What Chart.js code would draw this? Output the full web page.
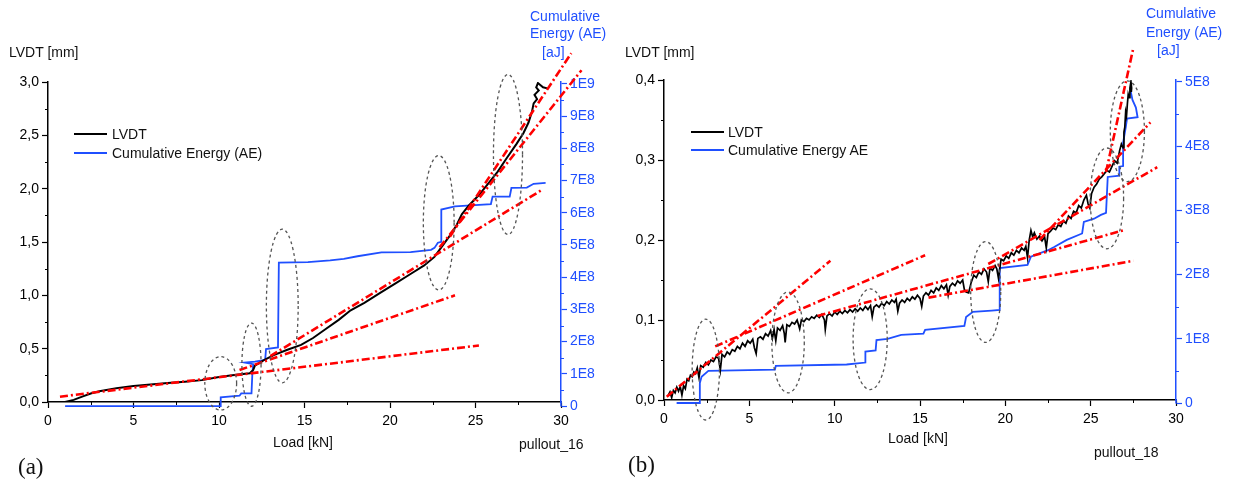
<!DOCTYPE html>
<html>
<head>
<meta charset="utf-8">
<script src="https://cdn.jsdelivr.net/npm/chart.js@4.4.1/dist/chart.umd.min.js"></script>
<style>
  body { margin: 0; background: #fff; width: 1240px; height: 482px; position: relative; overflow: hidden;
         font-family: 'Liberation Sans', Arial, sans-serif; color: #111; }
  canvas { position: absolute; top: 0; }
  .t { position: absolute; font-size: 14px; line-height: 16px; white-space: nowrap; }
  .blue { color: #1f4fff; }
  .tag { position: absolute; font-family: 'Liberation Serif', 'Times New Roman', serif; font-size: 23px; line-height: 26px; }
  .leg { position: absolute; height: 2px; width: 33px; }
</style>
</head>
<body>
<canvas id="pa" width="620" height="482" style="left:0"></canvas>
<canvas id="pb" width="620" height="482" style="left:620px"></canvas>

<!-- panel (a) texts -->
<div class="t" style="left:9px;top:44px">LVDT [mm]</div>
<div class="t blue" style="left:530px;top:8px">Cumulative</div>
<div class="t blue" style="left:530px;top:25px">Energy (AE)</div>
<div class="t blue" style="left:542px;top:44px">[aJ]</div>
<div class="t" style="left:273px;top:434px">Load [kN]</div>
<div class="t" style="left:519px;top:436px">pullout_16</div>
<div class="tag" style="left:18px;top:454px">(a)</div>
<div class="leg" style="left:74px;top:133px;background:#000"></div>
<div class="t" style="left:112px;top:126px">LVDT</div>
<div class="leg" style="left:74px;top:152px;background:#1f4fff"></div>
<div class="t" style="left:112px;top:145px">Cumulative Energy (AE)</div>

<!-- panel (b) texts -->
<div class="t" style="left:625px;top:44px">LVDT [mm]</div>
<div class="t blue" style="left:1146px;top:5px">Cumulative</div>
<div class="t blue" style="left:1146px;top:24px">Energy (AE)</div>
<div class="t blue" style="left:1157px;top:42px">[aJ]</div>
<div class="t" style="left:888px;top:430px">Load [kN]</div>
<div class="t" style="left:1094px;top:444px">pullout_18</div>
<div class="tag" style="left:628px;top:452px">(b)</div>
<div class="leg" style="left:691px;top:131px;background:#000"></div>
<div class="t" style="left:728px;top:124px">LVDT</div>
<div class="leg" style="left:691px;top:149px;background:#1f4fff"></div>
<div class="t" style="left:728px;top:142px">Cumulative Energy AE</div>

<script>
// ---- data ----
const loadTicks = [0, 5, 10, 15, 20, 25, 30];

// panel (a) pullout_16
const lvdtTicksA = [0, 0.5, 1.0, 1.5, 2.0, 2.5, 3.0];
const energyTicksA = [0, 1e8, 2e8, 3e8, 4e8, 5e8, 6e8, 7e8, 8e8, 9e8, 1e9];
const energyLabelsA = ['0', '1E8', '2E8', '3E8', '4E8', '5E8', '6E8', '7E8', '8E8', '9E8', '1E9'];

// [load kN, LVDT mm]
const lvdtA = [
  [1.0, 0.0], [1.5, 0.02], [2.0, 0.05], [2.5, 0.08], [3.0, 0.10], [3.5, 0.115], [4.0, 0.13],
  [5.0, 0.15], [6.0, 0.165], [7.0, 0.178], [8.0, 0.19], [9.0, 0.205], [10.0, 0.235], [11.0, 0.255],
  [11.8, 0.27], [12.0, 0.30], [12.1, 0.34], [12.6, 0.39], [13.2, 0.44], [14.0, 0.49], [14.8, 0.535],
  [15.5, 0.60], [16.2, 0.68], [17.0, 0.77], [17.7, 0.86], [18.5, 0.93], [19.4, 1.02], [20.3, 1.11],
  [21.2, 1.20], [22.0, 1.28], [22.6, 1.36], [23.0, 1.45], [23.5, 1.56], [23.9, 1.66], [24.2, 1.76],
  [24.6, 1.84], [25.2, 1.94], [25.8, 2.06], [26.3, 2.16], [26.8, 2.28], [27.4, 2.42], [27.8, 2.52],
  [28.1, 2.62], [28.3, 2.72], [28.4, 2.80], [28.6, 2.84], [28.45, 2.88], [28.7, 2.92], [28.55, 2.95],
  [28.65, 2.99], [28.95, 2.95], [29.2, 2.94]
];
// [load kN, cumulative energy aJ]
const energyA = [
  [1.0, 0], [10.1, 0], [10.1, 0.27e8], [11.2, 0.32e8], [11.3, 0.39e8], [11.9, 0.39e8], [11.95, 1.0e8],
  [12.0, 1.3e8], [11.5, 1.35e8], [12.1, 1.38e8], [12.7, 1.43e8], [12.75, 1.77e8], [13.45, 1.82e8],
  [13.5, 4.45e8], [15.2, 4.47e8], [16.5, 4.52e8], [17.3, 4.57e8], [18.1, 4.65e8], [19.5, 4.77e8],
  [21.2, 4.78e8], [22.4, 4.85e8], [22.6, 4.91e8], [22.8, 5.07e8], [23.0, 5.1e8], [23.0, 6.1e8],
  [23.8, 6.2e8], [25.9, 6.27e8], [26.0, 6.5e8], [27.0, 6.5e8], [27.1, 6.77e8], [28.0, 6.78e8],
  [28.4, 6.9e8], [29.1, 6.93e8]
];
// fitted trend lines [[x0, y0], [x1, y1]]
const fitsA = [
  [[0.7, 0.05], [25.2, 0.53]],
  [[11.2, 0.30], [23.8, 1.0]],
  [[13.0, 0.43], [28.9, 1.99]],
  [[23.5, 1.55], [30.6, 3.27]],
  [[22.9, 1.45], [31.2, 3.11]]
];
// highlighted zones [centre load, centre mm, half-width kN, half-height mm]
const zonesA = [
  [10.1, 0.175, 0.93, 0.25],
  [11.9, 0.35, 0.56, 0.39],
  [13.7, 0.90, 0.93, 0.72],
  [22.85, 1.68, 0.9, 0.63],
  [26.9, 2.32, 0.85, 0.75]
];

// panel (b) pullout_18
const lvdtTicksB = [0, 0.1, 0.2, 0.3, 0.4];
const energyTicksB = [0, 1e8, 2e8, 3e8, 4e8, 5e8];
const energyLabelsB = ['0', '1E8', '2E8', '3E8', '4E8', '5E8'];

const lvdtB = [
  [0.25, 0.006], [0.35, 0.010], [0.45, 0.003], [0.55, 0.012], [0.65, 0.009], [0.75, 0.016], [0.85, 0.011],
  [0.95, 0.017], [1.05, 0.006], [1.15, 0.018], [1.25, 0.014], [1.35, 0.026], [1.45, 0.024], [1.55, 0.031],
  [1.65, 0.029], [1.75, 0.035], [1.85, 0.033], [1.95, 0.04], [2.05, 0.028], [2.15, 0.043], [2.3, 0.041],
  [2.45, 0.047], [2.6, 0.044], [2.75, 0.05], [2.9, 0.048], [3.05, 0.054], [3.2, 0.052], [3.3, 0.037],
  [3.4, 0.057], [3.55, 0.054], [3.7, 0.06], [3.85, 0.057], [4.0, 0.063], [4.15, 0.061], [4.3, 0.067],
  [4.45, 0.064], [4.6, 0.071], [4.75, 0.067], [4.9, 0.074], [5.05, 0.071], [5.2, 0.076], [5.3, 0.065],
  [5.4, 0.058], [5.5, 0.077], [5.65, 0.079], [5.8, 0.076], [5.95, 0.083], [6.1, 0.08], [6.25, 0.087],
  [6.35, 0.077], [6.45, 0.088], [6.55, 0.074], [6.65, 0.09], [6.8, 0.087], [6.95, 0.093], [7.05, 0.083],
  [7.1, 0.072], [7.2, 0.094], [7.35, 0.092], [7.5, 0.097], [7.65, 0.095], [7.8, 0.1], [7.95, 0.089],
  [8.05, 0.1], [8.2, 0.098], [8.35, 0.102], [8.5, 0.1], [8.65, 0.104], [8.8, 0.102], [8.95, 0.106],
  [9.1, 0.103], [9.25, 0.107], [9.4, 0.1], [9.45, 0.088], [9.55, 0.105], [9.7, 0.108], [9.85, 0.105],
  [10.0, 0.11], [10.15, 0.107], [10.3, 0.111], [10.45, 0.108], [10.6, 0.112], [10.75, 0.109], [10.9, 0.113],
  [11.05, 0.11], [11.2, 0.114], [11.35, 0.111], [11.5, 0.115], [11.65, 0.112], [11.8, 0.117], [11.95, 0.113],
  [12.1, 0.118], [12.2, 0.104], [12.3, 0.116], [12.45, 0.119], [12.6, 0.116], [12.75, 0.121], [12.9, 0.118],
  [13.05, 0.123], [13.2, 0.12], [13.35, 0.125], [13.5, 0.122], [13.6, 0.126], [13.7, 0.111], [13.8, 0.121],
  [13.95, 0.125], [14.1, 0.122], [14.25, 0.127], [14.4, 0.124], [14.55, 0.129], [14.7, 0.126], [14.85, 0.131],
  [15.0, 0.127], [15.1, 0.117], [15.2, 0.13], [15.35, 0.134], [15.5, 0.131], [15.65, 0.137], [15.8, 0.134],
  [15.95, 0.14], [16.1, 0.137], [16.25, 0.143], [16.4, 0.139], [16.55, 0.144], [16.65, 0.131], [16.75, 0.142],
  [16.9, 0.146], [17.05, 0.143], [17.2, 0.149], [17.35, 0.146], [17.5, 0.15], [17.6, 0.138], [17.7, 0.135],
  [17.85, 0.134], [18.0, 0.147], [18.15, 0.156], [18.3, 0.153], [18.45, 0.16], [18.6, 0.157], [18.75, 0.164],
  [18.9, 0.16], [19.0, 0.148], [19.1, 0.165], [19.25, 0.162], [19.4, 0.168], [19.5, 0.164], [19.6, 0.152],
  [19.75, 0.176], [19.9, 0.174], [20.05, 0.18], [20.2, 0.177], [20.35, 0.184], [20.5, 0.181], [20.65, 0.187],
  [20.8, 0.184], [20.95, 0.19], [21.1, 0.187], [21.2, 0.192], [21.3, 0.178], [21.4, 0.2], [21.5, 0.212],
  [21.6, 0.204], [21.7, 0.209], [21.85, 0.201], [22.0, 0.205], [22.15, 0.199], [22.3, 0.204], [22.4, 0.19],
  [22.5, 0.208], [22.65, 0.211], [22.8, 0.215], [22.95, 0.213], [23.1, 0.219], [23.25, 0.217], [23.4, 0.224],
  [23.55, 0.221], [23.7, 0.23], [23.85, 0.227], [24.0, 0.236], [24.15, 0.234], [24.3, 0.243], [24.45, 0.24],
  [24.6, 0.25], [24.75, 0.256], [24.85, 0.245], [24.95, 0.24], [25.05, 0.258], [25.2, 0.266], [25.35, 0.27],
  [25.5, 0.276], [25.65, 0.279], [25.8, 0.283], [25.95, 0.287], [26.1, 0.285], [26.25, 0.292], [26.4, 0.299],
  [26.55, 0.296], [26.7, 0.312], [26.8, 0.32], [26.9, 0.315], [26.95, 0.335], [27.0, 0.341], [27.05, 0.36],
  [27.1, 0.355], [27.15, 0.37], [27.2, 0.382], [27.25, 0.378], [27.3, 0.39], [27.36, 0.398], [27.4, 0.39],
  [27.38, 0.385]
];
const energyB = [
  [0.74, 0], [2.1, 0], [2.1, 0.31e8], [2.2, 0.41e8], [2.6, 0.5e8], [6.5, 0.52e8], [6.55, 0.58e8],
  [10.7, 0.6e8], [11.8, 0.63e8], [11.8, 0.8e8], [12.4, 0.82e8], [12.45, 0.98e8], [13.1, 1.0e8],
  [13.9, 1.06e8], [15.2, 1.08e8], [15.3, 1.14e8], [17.6, 1.2e8], [17.7, 1.34e8], [18.1, 1.42e8],
  [19.2, 1.44e8], [19.67, 1.45e8], [19.67, 2.1e8], [21.3, 2.15e8], [21.5, 2.28e8], [22.5, 2.38e8],
  [22.86, 2.43e8], [23.6, 2.54e8], [24.5, 2.64e8], [24.6, 2.82e8], [25.2, 2.87e8], [25.6, 2.93e8],
  [25.9, 2.96e8], [26.0, 3.52e8], [26.68, 3.54e8], [26.68, 3.68e8], [26.9, 3.69e8], [26.9, 4.05e8],
  [27.06, 4.3e8], [27.13, 4.43e8], [27.75, 4.45e8], [27.65, 4.6e8], [27.45, 4.72e8], [27.35, 4.85e8]
];
const fitsB = [
  [[0.16, 0.004], [9.75, 0.174]],
  [[3.0, 0.067], [15.3, 0.181]],
  [[15.5, 0.128], [27.5, 0.174]],
  [[9.0, 0.105], [26.9, 0.212]],
  [[19.0, 0.17], [28.9, 0.291]],
  [[22.0, 0.20], [28.5, 0.347]],
  [[25.9, 0.285], [27.5, 0.44]]
];
const zonesB = [
  [2.45, 0.038, 0.8, 0.063],
  [7.27, 0.072, 0.95, 0.063],
  [12.08, 0.076, 1.0, 0.063],
  [18.85, 0.135, 0.88, 0.063],
  [25.95, 0.252, 0.98, 0.063],
  [27.15, 0.336, 1.0, 0.063]
];

// ---- drawing ----
const FONT = "'Liberation Sans', Arial, sans-serif";
const BLUE = '#1f4fff';
const pts = arr => arr.map(([x, y]) => ({ x, y }));

// dashed zones, short minor ticks, and the energy axis running down to its 0
const decor = {
  id: 'decor',
  afterDatasetsDraw(chart, args, opts) {
    const ctx = chart.ctx;
    const xs = chart.scales.x, ys = chart.scales.y, e = chart.scales.y2;
    ctx.save();
    ctx.strokeStyle = '#555';
    ctx.lineWidth = 1.3;
    ctx.setLineDash([3, 3]);
    opts.zones.forEach(([cx, cy, rx, ry]) => {
      const px = xs.getPixelForValue(cx), py = ys.getPixelForValue(cy);
      const prx = Math.abs(xs.getPixelForValue(cx + rx) - px);
      const pry = Math.abs(ys.getPixelForValue(cy + ry) - py);
      ctx.beginPath();
      ctx.ellipse(px, py, prx, pry, 0, 0, Math.PI * 2);
      ctx.stroke();
    });
    ctx.setLineDash([]);
    opts.minor.forEach(([id, step, color]) => {
      const s = chart.scales[id];
      ctx.strokeStyle = color;
      ctx.lineWidth = 1;
      ctx.beginPath();
      for (let k = 1; k * step < s.max; k += 2) {
        const p = Math.round(s.getPixelForValue(k * step)) + 0.5;
        if (id === 'x') { ctx.moveTo(p, s.top); ctx.lineTo(p, s.top + 3); }
        else if (id === 'y') { ctx.moveTo(s.right - 3, p); ctx.lineTo(s.right, p); }
        else { ctx.moveTo(s.left, p); ctx.lineTo(s.left + 3, p); }
      }
      ctx.stroke();
    });
    ctx.strokeStyle = BLUE;
    ctx.lineWidth = 1.5;
    ctx.beginPath();
    ctx.moveTo(e.left, e.bottom - 1);
    ctx.lineTo(e.left, e.getPixelForValue(0) + 0.5);
    ctx.stroke();
    ctx.restore();
  }
};

function axisOpts(color, size) {
  return {
    type: 'linear',
    border: { color, width: 1.5 },
    grid: { drawOnChartArea: false, tickLength: 6, tickColor: color, tickWidth: 1.2 },
    ticks: { color, font: { family: FONT, size: 14 }, padding: 3, maxRotation: 0 },
    afterFit: s => { if (s.isHorizontal()) s.height = size; else s.width = size; }
  };
}

function makePanel(id, p) {
  const fitSets = p.fits.map(seg => ({
    data: pts(seg), borderColor: '#ff0000', borderWidth: 2.6, borderDash: [8, 3, 2, 3],
    pointRadius: 0, clip: false, yAxisID: 'y'
  }));
  const x = axisOpts('#000', p.xh);
  x.position = 'bottom';
  x.min = 0; x.max = 30;
  x.ticks.padding = 5;
  x.afterBuildTicks = s => { s.ticks = loadTicks.map(v => ({ value: v })); };
  const y = axisOpts('#000', p.yw);
  y.position = 'left';
  y.min = 0; y.max = p.lvdtTicks[p.lvdtTicks.length - 1];
  y.afterBuildTicks = s => { s.ticks = p.lvdtTicks.map(v => ({ value: v })); };
  y.ticks.callback = v => v.toFixed(1).replace('.', ',');
  // energy axis sits a few pixels lower than the LVDT axis in the source figure
  const y2 = axisOpts(BLUE, p.y2w);
  y2.position = 'right';
  y2.min = p.eMin; y2.max = p.eMax;
  y2.afterBuildTicks = s => { s.ticks = p.energyTicks.map(v => ({ value: v })); };
  y2.ticks.callback = v => p.energyLabels[p.energyTicks.indexOf(v)];

  new Chart(document.getElementById(id), {
    type: 'line',
    data: {
      datasets: [
        ...fitSets,
        { data: pts(p.lvdt), borderColor: '#000', borderWidth: p.lw, pointRadius: 0, yAxisID: 'y' },
        { data: pts(p.energy), borderColor: BLUE, borderWidth: 1.8, pointRadius: 0, clip: 8, yAxisID: 'y2' }
      ]
    },
    options: {
      responsive: false,
      animation: false,
      parsing: false,
      layout: { padding: { top: p.top, left: 0, right: 0, bottom: 0 } },
      scales: { x, y, y2 },
      plugins: {
        legend: { display: false },
        tooltip: { enabled: false },
        decor: { zones: p.zones, minor: [['x', 2.5, '#000'], ['y', p.yMinor, '#000'], ['y2', 0.5e8, BLUE]] }
      }
    },
    plugins: [decor]
  });
}

makePanel('pa', {
  lvdt: lvdtA, energy: energyA, fits: fitsA, zones: zonesA,
  lvdtTicks: lvdtTicksA, energyTicks: energyTicksA, energyLabels: energyLabelsA,
  eMin: 0.125e8, eMax: 1.006e9,
  top: 82, xh: 80, yw: 48, y2w: 59, yMinor: 0.25, lw: 2
});
makePanel('pb', {
  lvdt: lvdtB, energy: energyB, fits: fitsB, zones: zonesB,
  lvdtTicks: lvdtTicksB, energyTicks: energyTicksB, energyLabels: energyLabelsB,
  eMin: 0.047e8, eMax: 5.03e8,
  top: 80, xh: 82, yw: 44, y2w: 64, yMinor: 0.05, lw: 1.7
});
</script>
</body>
</html>
